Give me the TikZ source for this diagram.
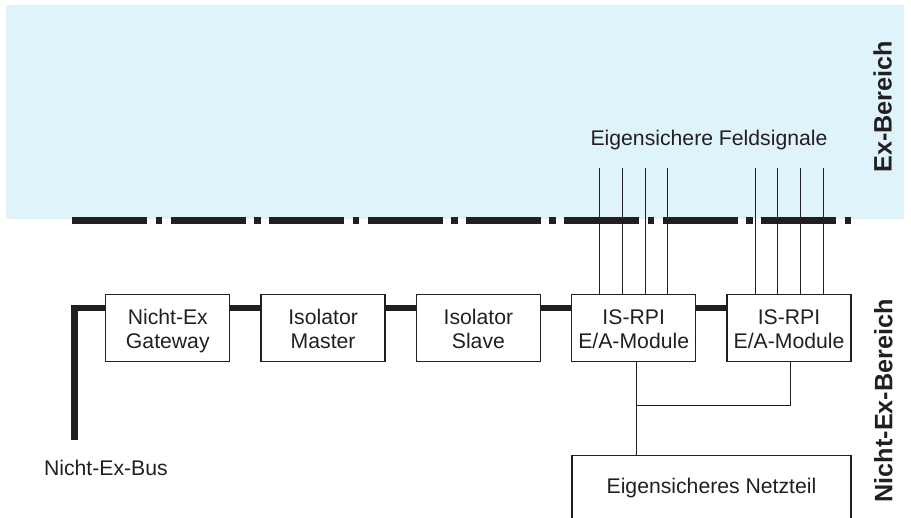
\documentclass[tikz,border=0pt]{standalone}
\usepackage{fontspec}
\setmainfont{Liberation Sans}
\usetikzlibrary{positioning, calc}
\definecolor{exblau}{RGB}{223,243,250}
\definecolor{dunkel}{RGB}{35,31,32}
\newcommand{\caotren}{\rule{0pt}{11pt}}
\newcommand{\sauduoi}{\rule[-2.2pt]{0pt}{2.2pt}}

\begin{document}
\begin{tikzpicture}[x=0.5pt, y=-0.5pt,
    hop/.style={draw=dunkel, line width=0.65pt, minimum width=62pt, minimum height=33.5pt,
        inner sep=0pt, align=center, text=dunkel, font=\fontsize{10.6}{12.35}\selectfont},
    nhan/.style={text=dunkel, font=\fontsize{10.6}{12.35}\selectfont},
    vung/.style={text=dunkel, rotate=90, font=\bfseries\fontsize{12.6}{15}\selectfont},
    bus/.style={draw=dunkel, line width=3.4pt},
    day/.style={draw=dunkel, line width=0.5pt}]

    \useasboundingbox (0,0) rectangle (911,518);
    \clip (0,0) rectangle (911,518);

    % Vùng Ex
    \fill[exblau] (6,5) rectangle (904,219);

    % Đường ranh giới
    \draw[dunkel, line width=3.5pt, dash pattern=on 37.5pt off 4.2pt on 3.35pt off 4.15pt]
        (72.3,220.5) -- (851,220.5);

    % Các khối
    \node[hop] (gw) at (167.8,327.8) {\caotren Nicht-Ex\\Gateway\sauduoi};
    \node[hop, right=15pt of gw] (im) {\caotren Isolator\\Master\sauduoi};
    \node[hop, right=15pt of im] (is) {\caotren Isolator\\Slave\sauduoi};
    \node[hop, right=15pt of is] (m1) {\caotren IS-RPI\\E/A-Module\sauduoi};
    \node[hop, right=15pt of m1] (m2) {\caotren IS-RPI\\E/A-Module\sauduoi};
    \node[hop, minimum width=139.5pt, minimum height=32pt] (nt) at (711.5,487.7) {Eigensicheres Netzteil};

    % Ghi chú
    \node[nhan] (fs) at (709,140) {Eigensichere Feldsignale};
    \node[nhan, anchor=west] (nb) at (37,468) {Nicht-Ex-Bus};
    \node[vung] (ex) at (882.5,106.7) {Ex-Bereich};
    \node[vung] (nex) at (883.3,400.8) {Nicht-Ex-Bereich};

    % Bus
    \coordinate (bus) at (74.3,308);
    \coordinate (busende) at (74.3,440);
    \draw[bus] (busende) -- (bus) -- (gw.west |- bus);
    \foreach \a/\b in {gw/im, im/is, is/m1, m1/m2}
        \draw[bus] (\a.east |- bus) -- (\b.west |- bus);

    % Tín hiệu trường
    \foreach \m in {m1, m2}
        \foreach \dx in {-34, -11.3, 11.3, 34}
            \draw[day] ($(\m.north)+(\dx,0)$) -- ++(0,-126);

    % Nguồn
    \coordinate (knot) at (636.7,406);
    \draw[day] (m1.south -| knot) -- (knot |- nt.north);
    \draw[day] (knot) -| ($(m2.south)+(1.5,0)$);

\end{tikzpicture}
\end{document}
